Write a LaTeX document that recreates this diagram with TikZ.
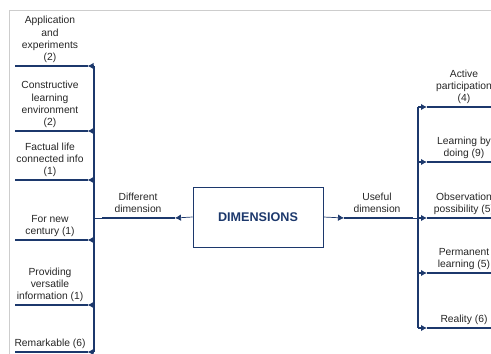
\documentclass[tikz,border=0pt]{standalone}
\usepackage{fontspec}
\setmainfont{Liberation Sans}
\usetikzlibrary{arrows.meta}
\definecolor{navy}{RGB}{28,56,108}
\definecolor{txt}{RGB}{38,38,38}
\definecolor{frame}{RGB}{205,205,205}
\begin{document}
\begin{tikzpicture}[x=1pt,y=-1pt,
  lab/.style={font=\fontsize{10.3}{12.3}\selectfont, text=txt, align=center, inner sep=0pt, anchor=south},
  uline/.style={draw=navy, line width=2.4pt},
  trunk/.style={draw=navy, line width=1.2pt},
  link/.style={draw=navy, line width=0.7pt},
  tip/.style={-{Latex[length=6pt,width=6.5pt]}},
  dimbox/.style={draw=navy, line width=0.9pt, minimum width=130pt, minimum height=60pt, inner sep=0pt,
    text=navy, font=\fontsize{12.6}{15}\selectfont\bfseries}
]
\useasboundingbox (0,0) rectangle (491,354);
\clip (0,0) rectangle (491,354);
% frame
\draw[frame, line width=0.9pt] (9,354) -- (9,10) -- (491,10);

% central box
\node[dimbox] (dim) at (258,217) {DIMENSIONS};

% ---------- left side ----------
\coordinate (l1s) at (15,66);   \coordinate (l1e) at (87.5,66);   \coordinate (t1) at (94,66);
\coordinate (l2s) at (15,131);  \coordinate (l2e) at (87.5,131);  \coordinate (t2) at (94,131);
\coordinate (l3s) at (15,180);  \coordinate (l3e) at (87.5,180);  \coordinate (t3) at (94,180);
\coordinate (l4s) at (15,240);  \coordinate (l4e) at (87.5,240);  \coordinate (t4) at (94,240);
\coordinate (l5s) at (15,305);  \coordinate (l5e) at (87.5,305);  \coordinate (t5) at (94,305);
\coordinate (l6s) at (15,352);  \coordinate (l6e) at (87.5,352);  \coordinate (t6) at (94,352);
\coordinate (tdd) at (94,218);

\node[lab] (l1) at (50,64.5)  {Application\\and\\experiments\\(2)\strut};
\node[lab] (l2) at (50,129.5) {Constructive\\learning\\environment\\(2)\strut};
\node[lab] (l3) at (50,178.5) {Factual life\\connected info\\(1)\strut};
\node[lab] (l4) at (50,238.5) {For new\\century (1)\strut};
\node[lab] (l5) at (50,303.5) {Providing\\versatile\\information (1)\strut};
\node[lab] (l6) at (50,350.5) {Remarkable (6)\strut};

\foreach \i in {1,...,6} {
  \draw[uline] (l\i s) -- (l\i e);
  \draw[trunk,tip] (t\i) -- (l\i e);
}
\draw[trunk] (t1) -- (t6);

% Different dimension
\coordinate (dds) at (102,218); \coordinate (dde) at (175,218);
\node[lab] (dd) at (138,216.5) {Different\\dimension\strut};
\draw[uline] (dds) -- (dde);
\draw[link] (tdd) -- (dds);
\draw[link,tip] (dim.west) -- (dde);

% ---------- right side ----------
\coordinate (uds) at (344,218); \coordinate (ude) at (413,218);
\coordinate (s1) at (418,107); \coordinate (r1s) at (427,107); \coordinate (r1e) at (495,107);
\coordinate (s2) at (418,162); \coordinate (r2s) at (427,162); \coordinate (r2e) at (495,162);
\coordinate (s3) at (418,218); \coordinate (r3s) at (427,218); \coordinate (r3e) at (495,218);
\coordinate (s4) at (418,273); \coordinate (r4s) at (427,273); \coordinate (r4e) at (495,273);
\coordinate (s5) at (418,328); \coordinate (r5s) at (427,328); \coordinate (r5e) at (495,328);

\node[lab] (ud) at (377,216.5) {Useful\\dimension\strut};
\draw[link,tip] (dim.east) -- (uds);
\draw[uline] (uds) -- (ude);
\draw[link] (ude) -- (s3);

\node[lab] (r1) at (464,105.5) {Active\\participation\\(4)\strut};
\node[lab] (r2) at (464,160.5) {Learning by\\doing (9)\strut};
\node[lab] (r3) at (464,216.5) {Observation\\possibility (5)\strut};
\node[lab] (r4) at (464,271.5) {Permanent\\learning (5)\strut};
\node[lab] (r5) at (464,326.5) {Reality (6)\strut};

\draw[trunk] (s1) -- (s5);
\foreach \i in {1,...,5} {
  \draw[trunk,tip] (s\i) -- (r\i s);
  \draw[uline] (r\i s) -- (r\i e);
}
\end{tikzpicture}
\end{document}
